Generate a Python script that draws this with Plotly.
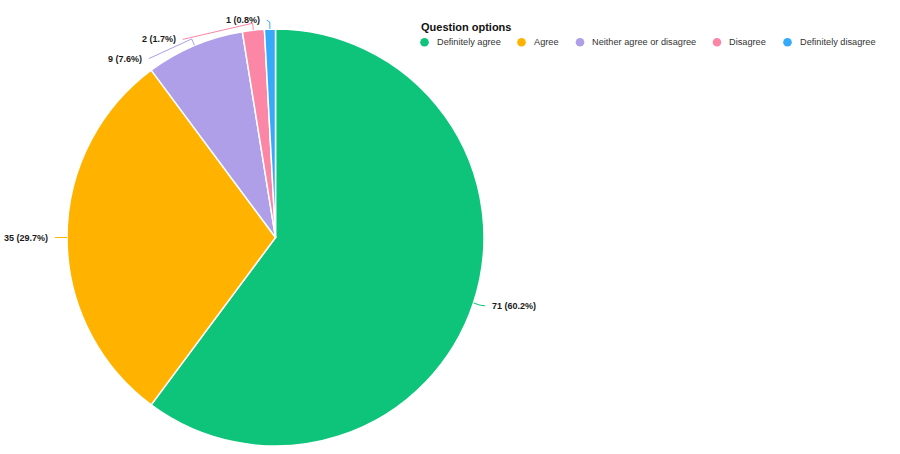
import numpy as np
import plotly.graph_objects as go

categories = ["Definitely agree", "Agree", "Neither agree or disagree", "Disagree", "Definitely disagree"]
counts = [71, 35, 9, 2, 1]
colors = ["#0ec47b", "#ffb300", "#ae9fe8", "#fb86a5", "#36aafa"]
legend_title = "Question options"

W, H = 900, 454
cx, cy, R = 275.5, 237.5, 208.5  # pie geometry in pixels

# legend layout (pixel positions of legend symbols)
leg_marker_x = [424.5, 521.5, 580, 717, 787.5]
leg_y = 42.3
leg_r = 4.3
FONT = "Liberation Sans, Arial, Helvetica, sans-serif"

fig = go.Figure()
fig.add_trace(go.Pie(
    labels=categories, values=counts, sort=False, direction="clockwise", rotation=0,
    marker=dict(colors=colors, line=dict(color="white", width=1.5)),
    textinfo="none", hoverinfo="label+value+percent", showlegend=False,
    domain=dict(x=[(cx - R) / W, (cx + R) / W], y=[1 - (cy + R) / H, 1 - (cy - R) / H]),
))


def px(x):
    return x / W


def py(y):
    return 1 - y / H


# outside labels with leader lines, derived from the data
vals = np.array(counts, dtype=float)
frac = vals / vals.sum()
cum = np.cumsum(frac) - frac / 2
theta = cum * 2 * np.pi  # clockwise from top
Rl = R + 9
Re = R + 7
spacing = 19.3
ax = cx + Rl * np.sin(theta)
ay = cy - Rl * np.cos(theta)
side = np.where(np.sin(theta) < 0, -1, 1)
moved = np.zeros(len(vals), dtype=bool)
for s in (-1, 1):
    idx = [i for i in np.argsort(ay) if side[i] == s]
    for k in range(1, len(idx)):
        i, j = idx[k], idx[k - 1]
        if ay[i] < ay[j] + spacing:
            ay[i] = ay[j] + spacing
            moved[i] = True
for i in range(len(vals)):
    if moved[i]:
        dy = ay[i] - cy
        ax[i] = cx + side[i] * np.sqrt(max(Rl ** 2 - dy ** 2, 0))

shapes = []
annotations = []
for i in range(len(vals)):
    ex, ey = cx + R * np.sin(theta[i]), cy - R * np.cos(theta[i])
    bx, by = cx + Re * np.sin(theta[i]), cy - Re * np.cos(theta[i])
    lx = ax[i] + side[i] * 3
    path = f"M {px(ex)},{py(ey)} L {px(bx)},{py(by)} L {px(lx)},{py(ay[i])}"
    shapes.append(dict(type="path", xref="paper", yref="paper", path=path,
                       line=dict(color=colors[i], width=1)))
    pct = frac[i] * 100
    annotations.append(dict(
        xref="paper", yref="paper", x=px(ax[i] + side[i] * 8), y=py(ay[i]),
        text=f"<b>{counts[i]} ({pct:.1f}%)</b>", showarrow=False,
        xanchor="left" if side[i] > 0 else "right", yanchor="middle",
        font=dict(size=9, color="#1a1a1a", family=FONT),
    ))

# legend: title + circle symbols + names
annotations.append(dict(
    xref="paper", yref="paper", x=px(419), y=py(26.7), text=f"<b>{legend_title}</b>",
    showarrow=False, xanchor="left", yanchor="middle",
    font=dict(size=11, color="#111", family=FONT),
))
for name, col, mx in zip(categories, colors, leg_marker_x):
    shapes.append(dict(type="circle", xref="paper", yref="paper",
                       x0=px(mx - leg_r), x1=px(mx + leg_r),
                       y0=py(leg_y + leg_r), y1=py(leg_y - leg_r),
                       fillcolor=col, line=dict(width=0)))
    annotations.append(dict(
        xref="paper", yref="paper", x=px(mx + 10), y=py(leg_y), text=name,
        showarrow=False, xanchor="left", yanchor="middle",
        font=dict(size=9.2, color="#333", family=FONT),
    ))

fig.update_layout(
    width=W, height=H, margin=dict(l=0, r=0, t=0, b=0, autoexpand=False),
    paper_bgcolor="white", plot_bgcolor="white",
    shapes=shapes, annotations=annotations, showlegend=False,
    font=dict(family=FONT, color="#333"),
)

fig.write_html("out.html", config={"displayModeBar": False},
               post_script="document.body.style.margin='0px';document.body.style.padding='0px';")
